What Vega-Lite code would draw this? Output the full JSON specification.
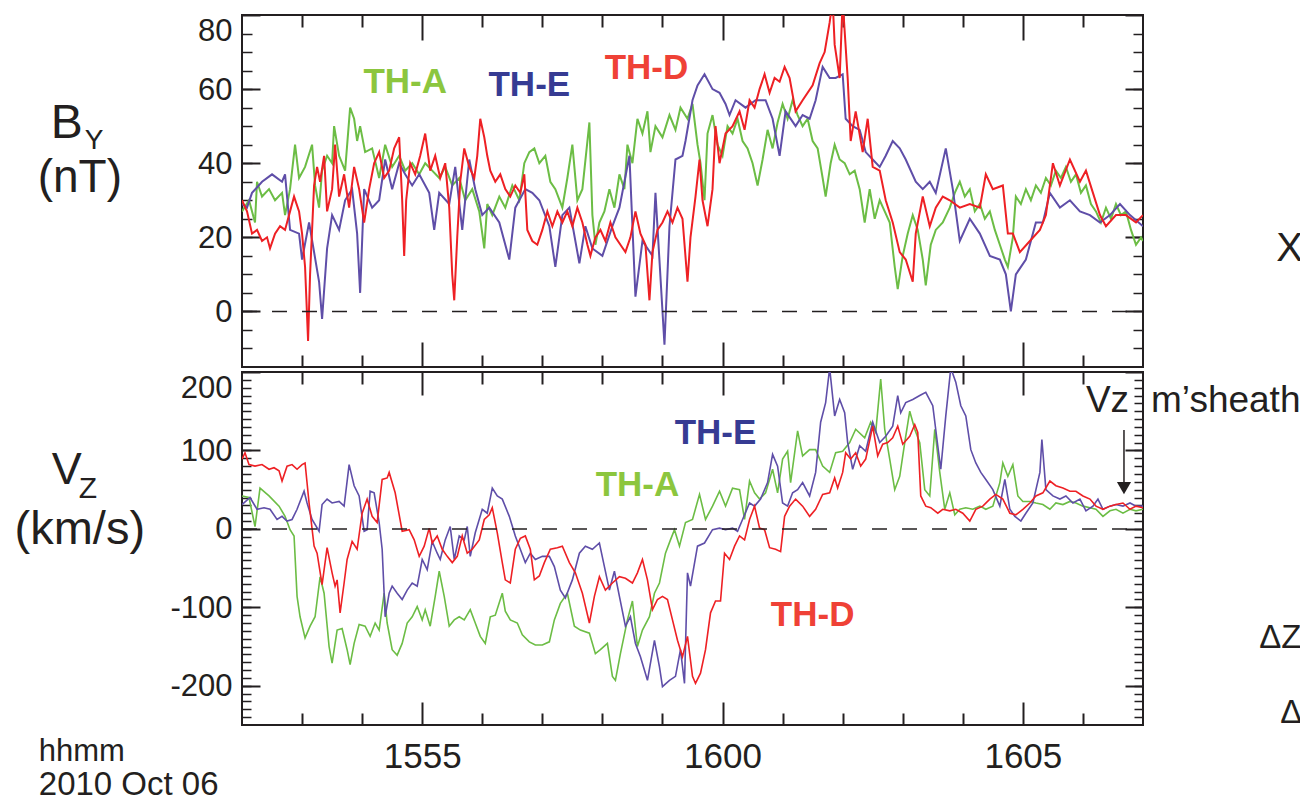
{
"$schema": "https://vega.github.io/schema/vega-lite/v6.json",
"padding": {"left": 13, "top": 13, "right": 0, "bottom": 0},
"spacing": 1,
"config": {
 "view": {"stroke": "#231f20", "strokeWidth": 2},
 "axis": {"grid": false, "domain": false, "labelFont": "Liberation Sans", "labelColor": "#231f20", "tickColor": "#231f20", "labelOverlap": false},
 "text": {"font": "Liberation Sans"}
},
"datasets": {
"byA": [{"time":"15:52:00","by":27},{"time":"15:52:07","by":30},{"time":"15:52:13","by":24},{"time":"15:52:15","by":35},{"time":"15:52:20","by":31},{"time":"15:52:27","by":33},{"time":"15:52:33","by":30},{"time":"15:52:40","by":32},{"time":"15:52:43","by":26},{"time":"15:52:48","by":33},{"time":"15:52:53","by":45},{"time":"15:52:57","by":36},{"time":"15:53:03","by":39},{"time":"15:53:10","by":45},{"time":"15:53:13","by":34},{"time":"15:53:17","by":28},{"time":"15:53:20","by":38},{"time":"15:53:25","by":42},{"time":"15:53:30","by":40},{"time":"15:53:32","by":50},{"time":"15:53:37","by":42},{"time":"15:53:43","by":38},{"time":"15:53:48","by":55},{"time":"15:53:52","by":52},{"time":"15:53:55","by":46},{"time":"15:53:58","by":50},{"time":"15:54:03","by":43},{"time":"15:54:10","by":44},{"time":"15:54:17","by":36},{"time":"15:54:23","by":45},{"time":"15:54:30","by":39},{"time":"15:54:37","by":42},{"time":"15:54:43","by":38},{"time":"15:54:50","by":40},{"time":"15:54:57","by":37},{"time":"15:55:03","by":40},{"time":"15:55:10","by":38},{"time":"15:55:17","by":36},{"time":"15:55:23","by":39},{"time":"15:55:30","by":34},{"time":"15:55:37","by":36},{"time":"15:55:43","by":30},{"time":"15:55:50","by":33},{"time":"15:55:57","by":27},{"time":"15:56:02","by":17},{"time":"15:56:05","by":29},{"time":"15:56:10","by":26},{"time":"15:56:17","by":31},{"time":"15:56:23","by":28},{"time":"15:56:30","by":34},{"time":"15:56:37","by":30},{"time":"15:56:42","by":40},{"time":"15:56:47","by":43},{"time":"15:56:52","by":44},{"time":"15:56:57","by":40},{"time":"15:57:03","by":42},{"time":"15:57:08","by":35},{"time":"15:57:13","by":33},{"time":"15:57:20","by":28},{"time":"15:57:25","by":36},{"time":"15:57:30","by":45},{"time":"15:57:35","by":30},{"time":"15:57:40","by":33},{"time":"15:57:47","by":51},{"time":"15:57:50","by":26},{"time":"15:57:53","by":18},{"time":"15:57:57","by":24},{"time":"15:58:02","by":27},{"time":"15:58:07","by":33},{"time":"15:58:12","by":28},{"time":"15:58:17","by":37},{"time":"15:58:22","by":33},{"time":"15:58:25","by":45},{"time":"15:58:30","by":40},{"time":"15:58:35","by":52},{"time":"15:58:40","by":48},{"time":"15:58:45","by":54},{"time":"15:58:48","by":43},{"time":"15:58:53","by":50},{"time":"15:59:00","by":47},{"time":"15:59:07","by":53},{"time":"15:59:13","by":49},{"time":"15:59:18","by":55},{"time":"15:59:25","by":52},{"time":"15:59:30","by":56},{"time":"15:59:35","by":45},{"time":"15:59:38","by":40},{"time":"15:59:42","by":30},{"time":"15:59:45","by":48},{"time":"15:59:50","by":53},{"time":"15:59:55","by":45},{"time":"16:00:00","by":42},{"time":"16:00:05","by":50},{"time":"16:00:10","by":48},{"time":"16:00:15","by":52},{"time":"16:00:20","by":46},{"time":"16:00:25","by":44},{"time":"16:00:30","by":40},{"time":"16:00:35","by":34},{"time":"16:00:40","by":41},{"time":"16:00:45","by":49},{"time":"16:00:50","by":44},{"time":"16:00:55","by":51},{"time":"16:01:00","by":56},{"time":"16:01:05","by":52},{"time":"16:01:10","by":57},{"time":"16:01:15","by":53},{"time":"16:01:20","by":50},{"time":"16:01:25","by":52},{"time":"16:01:30","by":46},{"time":"16:01:35","by":44},{"time":"16:01:40","by":36},{"time":"16:01:43","by":31},{"time":"16:01:48","by":40},{"time":"16:01:52","by":45},{"time":"16:01:57","by":41},{"time":"16:02:02","by":40},{"time":"16:02:07","by":37},{"time":"16:02:12","by":38},{"time":"16:02:17","by":33},{"time":"16:02:22","by":24},{"time":"16:02:27","by":33},{"time":"16:02:32","by":25},{"time":"16:02:37","by":30},{"time":"16:02:42","by":27},{"time":"16:02:47","by":24},{"time":"16:02:52","by":12},{"time":"16:02:55","by":6},{"time":"16:03:00","by":15},{"time":"16:03:05","by":21},{"time":"16:03:10","by":26},{"time":"16:03:15","by":22},{"time":"16:03:20","by":14},{"time":"16:03:23","by":7},{"time":"16:03:28","by":18},{"time":"16:03:33","by":22},{"time":"16:03:40","by":24},{"time":"16:03:47","by":28},{"time":"16:03:52","by":32},{"time":"16:03:57","by":35},{"time":"16:04:02","by":31},{"time":"16:04:07","by":33},{"time":"16:04:12","by":27},{"time":"16:04:17","by":29},{"time":"16:04:22","by":25},{"time":"16:04:27","by":27},{"time":"16:04:32","by":22},{"time":"16:04:37","by":18},{"time":"16:04:42","by":14},{"time":"16:04:45","by":12},{"time":"16:04:50","by":20},{"time":"16:04:53","by":31},{"time":"16:04:58","by":29},{"time":"16:05:03","by":33},{"time":"16:05:08","by":30},{"time":"16:05:13","by":34},{"time":"16:05:18","by":32},{"time":"16:05:23","by":36},{"time":"16:05:28","by":34},{"time":"16:05:33","by":38},{"time":"16:05:38","by":36},{"time":"16:05:43","by":39},{"time":"16:05:48","by":35},{"time":"16:05:53","by":37},{"time":"16:05:58","by":32},{"time":"16:06:03","by":34},{"time":"16:06:08","by":29},{"time":"16:06:13","by":27},{"time":"16:06:18","by":24},{"time":"16:06:23","by":28},{"time":"16:06:28","by":25},{"time":"16:06:33","by":29},{"time":"16:06:38","by":26},{"time":"16:06:43","by":27},{"time":"16:06:48","by":22},{"time":"16:06:53","by":18},{"time":"16:06:58","by":20},{"time":"16:07:00","by":19}],
"byE": [{"time":"15:52:00","by":29},{"time":"15:52:05","by":28},{"time":"15:52:10","by":32},{"time":"15:52:20","by":35},{"time":"15:52:30","by":37},{"time":"15:52:40","by":35},{"time":"15:52:43","by":37},{"time":"15:52:48","by":22},{"time":"15:52:57","by":21},{"time":"15:53:00","by":14},{"time":"15:53:07","by":24},{"time":"15:53:17","by":8},{"time":"15:53:20","by":-2},{"time":"15:53:25","by":17},{"time":"15:53:30","by":26},{"time":"15:53:37","by":22},{"time":"15:53:43","by":30},{"time":"15:53:50","by":33},{"time":"15:53:55","by":21},{"time":"15:53:58","by":5},{"time":"15:54:02","by":33},{"time":"15:54:10","by":28},{"time":"15:54:17","by":30},{"time":"15:54:23","by":41},{"time":"15:54:30","by":33},{"time":"15:54:37","by":40},{"time":"15:54:43","by":37},{"time":"15:54:50","by":34},{"time":"15:54:57","by":37},{"time":"15:55:07","by":32},{"time":"15:55:12","by":22},{"time":"15:55:17","by":32},{"time":"15:55:27","by":29},{"time":"15:55:33","by":39},{"time":"15:55:40","by":22},{"time":"15:55:47","by":41},{"time":"15:55:53","by":33},{"time":"15:56:00","by":26},{"time":"15:56:07","by":28},{"time":"15:56:17","by":24},{"time":"15:56:27","by":14},{"time":"15:56:33","by":28},{"time":"15:56:43","by":33},{"time":"15:56:50","by":32},{"time":"15:56:57","by":30},{"time":"15:57:07","by":23},{"time":"15:57:13","by":12},{"time":"15:57:20","by":26},{"time":"15:57:27","by":28},{"time":"15:57:37","by":13},{"time":"15:57:43","by":23},{"time":"15:57:50","by":17},{"time":"15:58:00","by":15},{"time":"15:58:10","by":23},{"time":"15:58:17","by":28},{"time":"15:58:27","by":42},{"time":"15:58:33","by":4},{"time":"15:58:40","by":19},{"time":"15:58:50","by":15},{"time":"15:58:53","by":32},{"time":"15:59:02","by":-9},{"time":"15:59:07","by":23},{"time":"15:59:13","by":41},{"time":"15:59:20","by":42},{"time":"15:59:23","by":46},{"time":"15:59:30","by":57},{"time":"15:59:35","by":61},{"time":"15:59:42","by":64},{"time":"15:59:50","by":60},{"time":"15:59:57","by":59},{"time":"16:00:03","by":56},{"time":"16:00:07","by":53},{"time":"16:00:13","by":57},{"time":"16:00:23","by":55},{"time":"16:00:33","by":57},{"time":"16:00:43","by":57},{"time":"16:00:50","by":52},{"time":"16:00:57","by":42},{"time":"16:01:03","by":54},{"time":"16:01:13","by":50},{"time":"16:01:20","by":53},{"time":"16:01:27","by":52},{"time":"16:01:33","by":57},{"time":"16:01:40","by":66},{"time":"16:01:47","by":63},{"time":"16:01:53","by":63},{"time":"16:02:00","by":64},{"time":"16:02:03","by":52},{"time":"16:02:10","by":50},{"time":"16:02:17","by":49},{"time":"16:02:23","by":43},{"time":"16:02:30","by":41},{"time":"16:02:37","by":39},{"time":"16:02:43","by":42},{"time":"16:02:50","by":46},{"time":"16:02:57","by":44},{"time":"16:03:03","by":41},{"time":"16:03:13","by":35},{"time":"16:03:20","by":33},{"time":"16:03:27","by":35},{"time":"16:03:33","by":32},{"time":"16:03:43","by":44},{"time":"16:03:50","by":33},{"time":"16:03:57","by":19},{"time":"16:04:07","by":25},{"time":"16:04:17","by":21},{"time":"16:04:27","by":15},{"time":"16:04:37","by":14},{"time":"16:04:43","by":10},{"time":"16:04:48","by":0},{"time":"16:04:53","by":10},{"time":"16:05:03","by":14},{"time":"16:05:13","by":24},{"time":"16:05:20","by":24},{"time":"16:05:27","by":32},{"time":"16:05:37","by":28},{"time":"16:05:47","by":30},{"time":"16:05:57","by":27},{"time":"16:06:07","by":26},{"time":"16:06:17","by":24},{"time":"16:06:27","by":26},{"time":"16:06:37","by":29},{"time":"16:06:47","by":26},{"time":"16:07:00","by":23}],
"byD": [{"time":"15:52:00","by":30},{"time":"15:52:05","by":27},{"time":"15:52:10","by":21},{"time":"15:52:15","by":22},{"time":"15:52:20","by":19},{"time":"15:52:25","by":20},{"time":"15:52:28","by":17},{"time":"15:52:33","by":21},{"time":"15:52:38","by":23},{"time":"15:52:43","by":22},{"time":"15:52:48","by":27},{"time":"15:52:52","by":31},{"time":"15:52:57","by":27},{"time":"15:53:00","by":21},{"time":"15:53:03","by":12},{"time":"15:53:06","by":-8},{"time":"15:53:08","by":10},{"time":"15:53:12","by":34},{"time":"15:53:15","by":39},{"time":"15:53:18","by":35},{"time":"15:53:22","by":42},{"time":"15:53:25","by":27},{"time":"15:53:30","by":33},{"time":"15:53:33","by":45},{"time":"15:53:37","by":31},{"time":"15:53:42","by":37},{"time":"15:53:47","by":28},{"time":"15:53:52","by":39},{"time":"15:53:57","by":33},{"time":"15:54:02","by":24},{"time":"15:54:07","by":33},{"time":"15:54:12","by":40},{"time":"15:54:17","by":43},{"time":"15:54:22","by":36},{"time":"15:54:27","by":38},{"time":"15:54:32","by":44},{"time":"15:54:37","by":47},{"time":"15:54:40","by":30},{"time":"15:54:42","by":15},{"time":"15:54:44","by":30},{"time":"15:54:48","by":40},{"time":"15:54:53","by":37},{"time":"15:54:58","by":42},{"time":"15:55:03","by":48},{"time":"15:55:08","by":38},{"time":"15:55:13","by":42},{"time":"15:55:18","by":36},{"time":"15:55:23","by":40},{"time":"15:55:27","by":28},{"time":"15:55:30","by":10},{"time":"15:55:32","by":3},{"time":"15:55:35","by":20},{"time":"15:55:38","by":35},{"time":"15:55:42","by":44},{"time":"15:55:47","by":39},{"time":"15:55:52","by":36},{"time":"15:55:55","by":42},{"time":"15:55:58","by":52},{"time":"15:56:02","by":47},{"time":"15:56:05","by":42},{"time":"15:56:08","by":38},{"time":"15:56:13","by":35},{"time":"15:56:18","by":37},{"time":"15:56:23","by":33},{"time":"15:56:28","by":31},{"time":"15:56:33","by":34},{"time":"15:56:38","by":32},{"time":"15:56:42","by":37},{"time":"15:56:45","by":22},{"time":"15:56:50","by":19},{"time":"15:56:55","by":18},{"time":"15:57:00","by":22},{"time":"15:57:05","by":27},{"time":"15:57:10","by":23},{"time":"15:57:15","by":27},{"time":"15:57:20","by":24},{"time":"15:57:25","by":27},{"time":"15:57:30","by":23},{"time":"15:57:35","by":28},{"time":"15:57:40","by":24},{"time":"15:57:45","by":18},{"time":"15:57:48","by":15},{"time":"15:57:53","by":20},{"time":"15:57:58","by":22},{"time":"15:58:03","by":19},{"time":"15:58:08","by":24},{"time":"15:58:13","by":20},{"time":"15:58:18","by":18},{"time":"15:58:23","by":16},{"time":"15:58:28","by":20},{"time":"15:58:33","by":27},{"time":"15:58:38","by":21},{"time":"15:58:43","by":18},{"time":"15:58:47","by":3},{"time":"15:58:50","by":16},{"time":"15:58:55","by":22},{"time":"15:59:00","by":24},{"time":"15:59:05","by":27},{"time":"15:59:10","by":24},{"time":"15:59:15","by":28},{"time":"15:59:20","by":25},{"time":"15:59:25","by":8},{"time":"15:59:28","by":20},{"time":"15:59:33","by":31},{"time":"15:59:37","by":41},{"time":"15:59:40","by":30},{"time":"15:59:45","by":23},{"time":"15:59:50","by":33},{"time":"15:59:53","by":50},{"time":"15:59:57","by":40},{"time":"16:00:03","by":48},{"time":"16:00:10","by":50},{"time":"16:00:17","by":54},{"time":"16:00:22","by":49},{"time":"16:00:27","by":57},{"time":"16:00:32","by":55},{"time":"16:00:37","by":60},{"time":"16:00:42","by":64},{"time":"16:00:47","by":59},{"time":"16:00:52","by":63},{"time":"16:00:57","by":62},{"time":"16:01:02","by":66},{"time":"16:01:07","by":63},{"time":"16:01:13","by":54},{"time":"16:01:20","by":57},{"time":"16:01:30","by":61},{"time":"16:01:37","by":67},{"time":"16:01:42","by":70},{"time":"16:01:47","by":78},{"time":"16:01:50","by":84},{"time":"16:01:52","by":72},{"time":"16:01:57","by":63},{"time":"16:02:00","by":84},{"time":"16:02:05","by":63},{"time":"16:02:08","by":46},{"time":"16:02:13","by":54},{"time":"16:02:20","by":43},{"time":"16:02:25","by":52},{"time":"16:02:30","by":39},{"time":"16:02:37","by":38},{"time":"16:02:43","by":30},{"time":"16:02:50","by":24},{"time":"16:02:57","by":16},{"time":"16:03:03","by":14},{"time":"16:03:10","by":8},{"time":"16:03:13","by":21},{"time":"16:03:20","by":31},{"time":"16:03:27","by":23},{"time":"16:03:33","by":28},{"time":"16:03:40","by":31},{"time":"16:03:47","by":30},{"time":"16:03:57","by":28},{"time":"16:04:07","by":29},{"time":"16:04:17","by":28},{"time":"16:04:23","by":37},{"time":"16:04:30","by":33},{"time":"16:04:40","by":34},{"time":"16:04:45","by":21},{"time":"16:04:50","by":21},{"time":"16:04:57","by":16},{"time":"16:05:07","by":19},{"time":"16:05:17","by":22},{"time":"16:05:23","by":26},{"time":"16:05:30","by":40},{"time":"16:05:37","by":34},{"time":"16:05:47","by":41},{"time":"16:05:57","by":35},{"time":"16:06:03","by":38},{"time":"16:06:10","by":32},{"time":"16:06:17","by":26},{"time":"16:06:23","by":23},{"time":"16:06:33","by":26},{"time":"16:06:43","by":26},{"time":"16:06:53","by":24},{"time":"16:07:00","by":26}],
"vzA": [{"time":"15:52:00","vz":42},{"time":"15:52:07","vz":40},{"time":"15:52:13","vz":3},{"time":"15:52:18","vz":52},{"time":"15:52:27","vz":42},{"time":"15:52:37","vz":29},{"time":"15:52:43","vz":16},{"time":"15:52:48","vz":-1},{"time":"15:52:52","vz":-9},{"time":"15:52:55","vz":-86},{"time":"15:52:58","vz":-112},{"time":"15:53:03","vz":-139},{"time":"15:53:08","vz":-124},{"time":"15:53:13","vz":-112},{"time":"15:53:18","vz":-61},{"time":"15:53:22","vz":-82},{"time":"15:53:27","vz":-150},{"time":"15:53:30","vz":-171},{"time":"15:53:35","vz":-129},{"time":"15:53:40","vz":-127},{"time":"15:53:45","vz":-154},{"time":"15:53:48","vz":-173},{"time":"15:53:52","vz":-146},{"time":"15:53:57","vz":-122},{"time":"15:54:03","vz":-124},{"time":"15:54:08","vz":-137},{"time":"15:54:13","vz":-120},{"time":"15:54:17","vz":-129},{"time":"15:54:22","vz":-82},{"time":"15:54:25","vz":-120},{"time":"15:54:30","vz":-154},{"time":"15:54:35","vz":-161},{"time":"15:54:40","vz":-146},{"time":"15:54:45","vz":-120},{"time":"15:54:50","vz":-112},{"time":"15:54:55","vz":-99},{"time":"15:55:00","vz":-116},{"time":"15:55:03","vz":-103},{"time":"15:55:08","vz":-124},{"time":"15:55:13","vz":-86},{"time":"15:55:17","vz":-54},{"time":"15:55:22","vz":-86},{"time":"15:55:27","vz":-124},{"time":"15:55:32","vz":-116},{"time":"15:55:37","vz":-112},{"time":"15:55:42","vz":-116},{"time":"15:55:48","vz":-103},{"time":"15:55:53","vz":-120},{"time":"15:55:58","vz":-137},{"time":"15:56:03","vz":-146},{"time":"15:56:08","vz":-112},{"time":"15:56:13","vz":-110},{"time":"15:56:20","vz":-82},{"time":"15:56:23","vz":-105},{"time":"15:56:28","vz":-116},{"time":"15:56:35","vz":-120},{"time":"15:56:40","vz":-135},{"time":"15:56:47","vz":-144},{"time":"15:56:53","vz":-148},{"time":"15:57:00","vz":-148},{"time":"15:57:07","vz":-144},{"time":"15:57:12","vz":-116},{"time":"15:57:18","vz":-95},{"time":"15:57:25","vz":-82},{"time":"15:57:32","vz":-124},{"time":"15:57:38","vz":-129},{"time":"15:57:47","vz":-133},{"time":"15:57:53","vz":-159},{"time":"15:57:58","vz":-154},{"time":"15:58:05","vz":-146},{"time":"15:58:10","vz":-188},{"time":"15:58:13","vz":-193},{"time":"15:58:18","vz":-159},{"time":"15:58:25","vz":-116},{"time":"15:58:30","vz":-92},{"time":"15:58:35","vz":-150},{"time":"15:58:40","vz":-129},{"time":"15:58:47","vz":-112},{"time":"15:58:52","vz":-82},{"time":"15:58:57","vz":-69},{"time":"15:59:03","vz":-31},{"time":"15:59:08","vz":-14},{"time":"15:59:12","vz":-1},{"time":"15:59:17","vz":-22},{"time":"15:59:23","vz":8},{"time":"15:59:30","vz":12},{"time":"15:59:37","vz":44},{"time":"15:59:43","vz":12},{"time":"15:59:50","vz":29},{"time":"15:59:57","vz":48},{"time":"16:00:03","vz":29},{"time":"16:00:10","vz":52},{"time":"16:00:17","vz":50},{"time":"16:00:22","vz":12},{"time":"16:00:27","vz":61},{"time":"16:00:32","vz":46},{"time":"16:00:37","vz":38},{"time":"16:00:43","vz":46},{"time":"16:00:50","vz":76},{"time":"16:00:55","vz":46},{"time":"16:01:00","vz":89},{"time":"16:01:05","vz":99},{"time":"16:01:08","vz":59},{"time":"16:01:15","vz":125},{"time":"16:01:20","vz":93},{"time":"16:01:27","vz":101},{"time":"16:01:33","vz":101},{"time":"16:01:40","vz":80},{"time":"16:01:47","vz":72},{"time":"16:01:53","vz":97},{"time":"16:02:00","vz":99},{"time":"16:02:07","vz":110},{"time":"16:02:13","vz":127},{"time":"16:02:22","vz":116},{"time":"16:02:28","vz":136},{"time":"16:02:33","vz":123},{"time":"16:02:38","vz":191},{"time":"16:02:42","vz":127},{"time":"16:02:47","vz":89},{"time":"16:02:52","vz":50},{"time":"16:02:57","vz":67},{"time":"16:03:02","vz":110},{"time":"16:03:07","vz":150},{"time":"16:03:12","vz":127},{"time":"16:03:17","vz":110},{"time":"16:03:22","vz":50},{"time":"16:03:27","vz":42},{"time":"16:03:32","vz":127},{"time":"16:03:37","vz":72},{"time":"16:03:42","vz":25},{"time":"16:03:47","vz":46},{"time":"16:03:52","vz":18},{"time":"16:03:57","vz":25},{"time":"16:04:03","vz":27},{"time":"16:04:10","vz":25},{"time":"16:04:17","vz":29},{"time":"16:04:23","vz":25},{"time":"16:04:30","vz":29},{"time":"16:04:37","vz":59},{"time":"16:04:40","vz":84},{"time":"16:04:45","vz":67},{"time":"16:04:50","vz":82},{"time":"16:04:55","vz":42},{"time":"16:05:00","vz":35},{"time":"16:05:07","vz":35},{"time":"16:05:13","vz":33},{"time":"16:05:20","vz":31},{"time":"16:05:27","vz":25},{"time":"16:05:33","vz":33},{"time":"16:05:40","vz":31},{"time":"16:05:47","vz":35},{"time":"16:05:53","vz":33},{"time":"16:06:00","vz":29},{"time":"16:06:07","vz":27},{"time":"16:06:13","vz":25},{"time":"16:06:20","vz":16},{"time":"16:06:27","vz":23},{"time":"16:06:33","vz":25},{"time":"16:06:40","vz":20},{"time":"16:06:47","vz":25},{"time":"16:06:53","vz":23},{"time":"16:07:00","vz":25}],
"vzE": [{"time":"15:52:00","vz":31},{"time":"15:52:08","vz":40},{"time":"15:52:15","vz":25},{"time":"15:52:22","vz":27},{"time":"15:52:28","vz":25},{"time":"15:52:35","vz":12},{"time":"15:52:40","vz":16},{"time":"15:52:45","vz":10},{"time":"15:52:50","vz":12},{"time":"15:52:55","vz":25},{"time":"15:53:02","vz":48},{"time":"15:53:05","vz":33},{"time":"15:53:10","vz":12},{"time":"15:53:17","vz":-3},{"time":"15:53:20","vz":31},{"time":"15:53:25","vz":38},{"time":"15:53:30","vz":33},{"time":"15:53:37","vz":35},{"time":"15:53:42","vz":29},{"time":"15:53:47","vz":82},{"time":"15:53:52","vz":55},{"time":"15:53:57","vz":42},{"time":"15:54:02","vz":-3},{"time":"15:54:05","vz":-1},{"time":"15:54:08","vz":48},{"time":"15:54:12","vz":46},{"time":"15:54:17","vz":8},{"time":"15:54:20","vz":-26},{"time":"15:54:23","vz":-112},{"time":"15:54:27","vz":-82},{"time":"15:54:30","vz":-73},{"time":"15:54:35","vz":-82},{"time":"15:54:40","vz":-90},{"time":"15:54:45","vz":-78},{"time":"15:54:50","vz":-69},{"time":"15:54:55","vz":-73},{"time":"15:55:00","vz":-39},{"time":"15:55:05","vz":-52},{"time":"15:55:10","vz":-16},{"time":"15:55:15","vz":-31},{"time":"15:55:18","vz":-39},{"time":"15:55:23","vz":-14},{"time":"15:55:28","vz":3},{"time":"15:55:32","vz":-39},{"time":"15:55:37","vz":-9},{"time":"15:55:42","vz":-14},{"time":"15:55:45","vz":3},{"time":"15:55:48","vz":-35},{"time":"15:55:53","vz":-5},{"time":"15:56:00","vz":25},{"time":"15:56:05","vz":20},{"time":"15:56:10","vz":52},{"time":"15:56:15","vz":42},{"time":"15:56:20","vz":38},{"time":"15:56:27","vz":16},{"time":"15:56:33","vz":-9},{"time":"15:56:38","vz":-26},{"time":"15:56:43","vz":-43},{"time":"15:56:48","vz":-31},{"time":"15:56:53","vz":-39},{"time":"15:57:00","vz":-35},{"time":"15:57:07","vz":-35},{"time":"15:57:12","vz":-48},{"time":"15:57:18","vz":-78},{"time":"15:57:23","vz":-88},{"time":"15:57:30","vz":-65},{"time":"15:57:37","vz":-31},{"time":"15:57:43","vz":-22},{"time":"15:57:50","vz":-26},{"time":"15:57:57","vz":-18},{"time":"15:58:02","vz":-48},{"time":"15:58:07","vz":-78},{"time":"15:58:12","vz":-54},{"time":"15:58:17","vz":-86},{"time":"15:58:23","vz":-124},{"time":"15:58:28","vz":-112},{"time":"15:58:33","vz":-146},{"time":"15:58:38","vz":-163},{"time":"15:58:45","vz":-193},{"time":"15:58:52","vz":-142},{"time":"15:58:57","vz":-176},{"time":"15:59:00","vz":-201},{"time":"15:59:07","vz":-193},{"time":"15:59:13","vz":-188},{"time":"15:59:18","vz":-154},{"time":"15:59:22","vz":-197},{"time":"15:59:25","vz":-56},{"time":"15:59:28","vz":-73},{"time":"15:59:35","vz":-22},{"time":"15:59:42","vz":-18},{"time":"15:59:50","vz":-1},{"time":"15:59:57","vz":1},{"time":"16:00:03","vz":-1},{"time":"16:00:10","vz":1},{"time":"16:00:15","vz":-3},{"time":"16:00:20","vz":12},{"time":"16:00:27","vz":33},{"time":"16:00:32","vz":29},{"time":"16:00:38","vz":38},{"time":"16:00:45","vz":59},{"time":"16:00:50","vz":95},{"time":"16:00:55","vz":80},{"time":"16:01:00","vz":33},{"time":"16:01:05","vz":29},{"time":"16:01:10","vz":46},{"time":"16:01:15","vz":50},{"time":"16:01:20","vz":59},{"time":"16:01:27","vz":42},{"time":"16:01:33","vz":72},{"time":"16:01:38","vz":136},{"time":"16:01:43","vz":161},{"time":"16:01:47","vz":205},{"time":"16:01:52","vz":144},{"time":"16:01:57","vz":165},{"time":"16:02:02","vz":148},{"time":"16:02:05","vz":110},{"time":"16:02:10","vz":76},{"time":"16:02:17","vz":106},{"time":"16:02:23","vz":99},{"time":"16:02:30","vz":136},{"time":"16:02:37","vz":110},{"time":"16:02:43","vz":118},{"time":"16:02:50","vz":131},{"time":"16:02:55","vz":170},{"time":"16:02:58","vz":148},{"time":"16:03:03","vz":161},{"time":"16:03:10","vz":165},{"time":"16:03:17","vz":170},{"time":"16:03:23","vz":174},{"time":"16:03:30","vz":157},{"time":"16:03:35","vz":106},{"time":"16:03:38","vz":76},{"time":"16:03:43","vz":144},{"time":"16:03:48","vz":205},{"time":"16:03:53","vz":187},{"time":"16:03:58","vz":157},{"time":"16:04:03","vz":144},{"time":"16:04:08","vz":101},{"time":"16:04:13","vz":84},{"time":"16:04:18","vz":72},{"time":"16:04:23","vz":63},{"time":"16:04:30","vz":50},{"time":"16:04:37","vz":29},{"time":"16:04:42","vz":63},{"time":"16:04:47","vz":25},{"time":"16:04:52","vz":16},{"time":"16:04:58","vz":10},{"time":"16:05:03","vz":20},{"time":"16:05:10","vz":33},{"time":"16:05:17","vz":72},{"time":"16:05:19","vz":114},{"time":"16:05:23","vz":50},{"time":"16:05:30","vz":42},{"time":"16:05:37","vz":38},{"time":"16:05:43","vz":42},{"time":"16:05:50","vz":33},{"time":"16:05:57","vz":38},{"time":"16:06:03","vz":23},{"time":"16:06:10","vz":29},{"time":"16:06:15","vz":38},{"time":"16:06:20","vz":25},{"time":"16:06:27","vz":29},{"time":"16:06:33","vz":31},{"time":"16:06:40","vz":29},{"time":"16:06:47","vz":33},{"time":"16:06:53","vz":29},{"time":"16:07:00","vz":29}],
"vzD": [{"time":"15:52:00","vz":89},{"time":"15:52:03","vz":97},{"time":"15:52:07","vz":82},{"time":"15:52:13","vz":80},{"time":"15:52:20","vz":82},{"time":"15:52:27","vz":76},{"time":"15:52:32","vz":78},{"time":"15:52:37","vz":74},{"time":"15:52:40","vz":61},{"time":"15:52:45","vz":80},{"time":"15:52:50","vz":82},{"time":"15:52:55","vz":76},{"time":"15:53:00","vz":82},{"time":"15:53:03","vz":84},{"time":"15:53:07","vz":33},{"time":"15:53:12","vz":-22},{"time":"15:53:15","vz":-31},{"time":"15:53:20","vz":-71},{"time":"15:53:25","vz":-24},{"time":"15:53:30","vz":-56},{"time":"15:53:33","vz":-73},{"time":"15:53:35","vz":-65},{"time":"15:53:38","vz":-107},{"time":"15:53:42","vz":-69},{"time":"15:53:45","vz":-39},{"time":"15:53:50","vz":-16},{"time":"15:53:55","vz":-26},{"time":"15:54:00","vz":20},{"time":"15:54:05","vz":38},{"time":"15:54:10","vz":16},{"time":"15:54:15","vz":8},{"time":"15:54:20","vz":63},{"time":"15:54:25","vz":65},{"time":"15:54:27","vz":72},{"time":"15:54:33","vz":46},{"time":"15:54:40","vz":-3},{"time":"15:54:47","vz":-1},{"time":"15:54:52","vz":-14},{"time":"15:54:57","vz":-35},{"time":"15:55:02","vz":-22},{"time":"15:55:07","vz":1},{"time":"15:55:10","vz":-18},{"time":"15:55:15","vz":-9},{"time":"15:55:20","vz":-26},{"time":"15:55:25","vz":-35},{"time":"15:55:30","vz":-43},{"time":"15:55:35","vz":-35},{"time":"15:55:40","vz":-9},{"time":"15:55:45","vz":-31},{"time":"15:55:50","vz":-26},{"time":"15:55:57","vz":-14},{"time":"15:56:02","vz":12},{"time":"15:56:07","vz":18},{"time":"15:56:10","vz":27},{"time":"15:56:15","vz":-5},{"time":"15:56:20","vz":-43},{"time":"15:56:23","vz":-65},{"time":"15:56:28","vz":-69},{"time":"15:56:33","vz":-26},{"time":"15:56:38","vz":-12},{"time":"15:56:43","vz":-9},{"time":"15:56:48","vz":-26},{"time":"15:56:52","vz":-65},{"time":"15:56:57","vz":-60},{"time":"15:57:02","vz":-43},{"time":"15:57:08","vz":-26},{"time":"15:57:15","vz":-24},{"time":"15:57:20","vz":-22},{"time":"15:57:27","vz":-43},{"time":"15:57:33","vz":-56},{"time":"15:57:40","vz":-82},{"time":"15:57:47","vz":-120},{"time":"15:57:52","vz":-86},{"time":"15:57:57","vz":-61},{"time":"15:58:03","vz":-78},{"time":"15:58:10","vz":-69},{"time":"15:58:17","vz":-61},{"time":"15:58:23","vz":-63},{"time":"15:58:30","vz":-69},{"time":"15:58:35","vz":-56},{"time":"15:58:40","vz":-39},{"time":"15:58:45","vz":-65},{"time":"15:58:50","vz":-103},{"time":"15:58:55","vz":-90},{"time":"15:59:00","vz":-86},{"time":"15:59:05","vz":-90},{"time":"15:59:10","vz":-116},{"time":"15:59:15","vz":-142},{"time":"15:59:20","vz":-163},{"time":"15:59:25","vz":-137},{"time":"15:59:30","vz":-188},{"time":"15:59:33","vz":-197},{"time":"15:59:38","vz":-184},{"time":"15:59:43","vz":-154},{"time":"15:59:48","vz":-107},{"time":"15:59:53","vz":-92},{"time":"15:59:58","vz":-92},{"time":"16:00:02","vz":-31},{"time":"16:00:07","vz":-39},{"time":"16:00:12","vz":-22},{"time":"16:00:17","vz":-9},{"time":"16:00:22","vz":-14},{"time":"16:00:27","vz":12},{"time":"16:00:32","vz":29},{"time":"16:00:37","vz":1},{"time":"16:00:42","vz":-1},{"time":"16:00:47","vz":-24},{"time":"16:00:53","vz":-26},{"time":"16:00:58","vz":-29},{"time":"16:01:02","vz":16},{"time":"16:01:07","vz":29},{"time":"16:01:13","vz":38},{"time":"16:01:20","vz":29},{"time":"16:01:27","vz":16},{"time":"16:01:33","vz":25},{"time":"16:01:40","vz":44},{"time":"16:01:47","vz":46},{"time":"16:01:52","vz":65},{"time":"16:01:55","vz":52},{"time":"16:02:00","vz":72},{"time":"16:02:03","vz":97},{"time":"16:02:08","vz":89},{"time":"16:02:13","vz":97},{"time":"16:02:18","vz":80},{"time":"16:02:23","vz":89},{"time":"16:02:30","vz":131},{"time":"16:02:35","vz":93},{"time":"16:02:40","vz":108},{"time":"16:02:45","vz":110},{"time":"16:02:50","vz":116},{"time":"16:02:55","vz":131},{"time":"16:03:00","vz":108},{"time":"16:03:07","vz":118},{"time":"16:03:12","vz":133},{"time":"16:03:15","vz":123},{"time":"16:03:18","vz":42},{"time":"16:03:23","vz":29},{"time":"16:03:28","vz":27},{"time":"16:03:35","vz":20},{"time":"16:03:40","vz":25},{"time":"16:03:47","vz":23},{"time":"16:03:53","vz":25},{"time":"16:04:00","vz":20},{"time":"16:04:07","vz":10},{"time":"16:04:13","vz":25},{"time":"16:04:20","vz":29},{"time":"16:04:27","vz":38},{"time":"16:04:33","vz":44},{"time":"16:04:40","vz":38},{"time":"16:04:47","vz":20},{"time":"16:04:53","vz":18},{"time":"16:05:00","vz":25},{"time":"16:05:07","vz":33},{"time":"16:05:13","vz":42},{"time":"16:05:20","vz":46},{"time":"16:05:27","vz":61},{"time":"16:05:33","vz":55},{"time":"16:05:40","vz":52},{"time":"16:05:47","vz":48},{"time":"16:05:53","vz":48},{"time":"16:06:00","vz":42},{"time":"16:06:07","vz":38},{"time":"16:06:13","vz":29},{"time":"16:06:20","vz":25},{"time":"16:06:27","vz":29},{"time":"16:06:33","vz":31},{"time":"16:06:40","vz":33},{"time":"16:06:47","vz":25},{"time":"16:06:53","vz":29},{"time":"16:07:00","vz":27}]
},
"vconcat": [
{
 "width": 901, "height": 352,
 "resolve": {"axis": {"x": "independent", "y": "independent"}},
 "layer": [
  {"data": {"name": "byA", "format": {"parse": {"time": "date:'%H:%M:%S'"}}},
   "mark": {"type": "line", "color": "#6cbd45", "strokeWidth": 2, "clip": true},
   "encoding": {
    "x": {"field": "time", "type": "temporal", "scale": {"domain": [{"year":1900,"month":1,"date":1,"hours":15,"minutes":52},{"year":1900,"month":1,"date":1,"hours":16,"minutes":7}]},
          "axis": {"orient": "bottom", "title": null, "labels": false, "tickSize": -25, "tickWidth": 2, "values": [{"year":1900,"month":1,"date":1,"hours":15,"minutes":55},{"year":1900,"month":1,"date":1,"hours":16,"minutes":0},{"year":1900,"month":1,"date":1,"hours":16,"minutes":5}]}},
    "y": {"field": "by", "type": "quantitative", "scale": {"domain": [-15, 80], "nice": false, "zero": false},
          "axis": {"orient": "left", "title": null, "ticks": false, "values": [0, 20, 40, 60, 80], "labelFontSize": 31, "labelPadding": 10, "labelFlush": true, "labelOffset": 1}}
   }},
  {"data": {"name": "byE", "format": {"parse": {"time": "date:'%H:%M:%S'"}}},
   "mark": {"type": "line", "color": "#5f4ea8", "strokeWidth": 2, "clip": true},
   "encoding": {
    "x": {"field": "time", "type": "temporal", "axis": {"orient": "bottom", "title": null, "labels": false, "tickSize": -12, "tickWidth": 2, "values": [{"year":1900,"month":1,"date":1,"hours":15,"minutes":53},{"year":1900,"month":1,"date":1,"hours":15,"minutes":54},{"year":1900,"month":1,"date":1,"hours":15,"minutes":56},{"year":1900,"month":1,"date":1,"hours":15,"minutes":57},{"year":1900,"month":1,"date":1,"hours":15,"minutes":58},{"year":1900,"month":1,"date":1,"hours":15,"minutes":59},{"year":1900,"month":1,"date":1,"hours":16,"minutes":1},{"year":1900,"month":1,"date":1,"hours":16,"minutes":2},{"year":1900,"month":1,"date":1,"hours":16,"minutes":3},{"year":1900,"month":1,"date":1,"hours":16,"minutes":4},{"year":1900,"month":1,"date":1,"hours":16,"minutes":6}]}},
    "y": {"field": "by", "type": "quantitative", "axis": {"orient": "left", "title": null, "labels": false, "tickSize": -18, "tickWidth": 2, "values": [0, 20, 40, 60, 80]}}
   }},
  {"data": {"name": "byD", "format": {"parse": {"time": "date:'%H:%M:%S'"}}},
   "mark": {"type": "line", "color": "#ee2024", "strokeWidth": 2, "clip": true},
   "encoding": {
    "x": {"field": "time", "type": "temporal", "axis": {"orient": "top", "title": null, "labels": false, "tickSize": -25, "tickWidth": 2, "values": [{"year":1900,"month":1,"date":1,"hours":15,"minutes":55},{"year":1900,"month":1,"date":1,"hours":16,"minutes":0},{"year":1900,"month":1,"date":1,"hours":16,"minutes":5}]}},
    "y": {"field": "by", "type": "quantitative", "axis": {"orient": "left", "title": null, "labels": false, "tickSize": -10, "tickWidth": 1.5, "values": [-10, -5, 0, 5, 10, 15, 20, 25, 30, 35, 40, 45, 50, 55, 60, 65, 70, 75]}}
   }},
  {"data": {"values": [{}]},
   "mark": {"type": "rule", "color": "#231f20", "strokeWidth": 1.5, "strokeDash": [15, 15]},
   "encoding": {
    "x": {"datum": {"year":1900,"month":1,"date":1,"hours":15,"minutes":52}, "type": "temporal", "axis": {"orient": "top", "title": null, "labels": false, "tickSize": -12, "tickWidth": 2, "values": [{"year":1900,"month":1,"date":1,"hours":15,"minutes":53},{"year":1900,"month":1,"date":1,"hours":15,"minutes":54},{"year":1900,"month":1,"date":1,"hours":15,"minutes":56},{"year":1900,"month":1,"date":1,"hours":15,"minutes":57},{"year":1900,"month":1,"date":1,"hours":15,"minutes":58},{"year":1900,"month":1,"date":1,"hours":15,"minutes":59},{"year":1900,"month":1,"date":1,"hours":16,"minutes":1},{"year":1900,"month":1,"date":1,"hours":16,"minutes":2},{"year":1900,"month":1,"date":1,"hours":16,"minutes":3},{"year":1900,"month":1,"date":1,"hours":16,"minutes":4},{"year":1900,"month":1,"date":1,"hours":16,"minutes":6}]}},
    "x2": {"datum": {"year":1900,"month":1,"date":1,"hours":16,"minutes":7}},
    "y": {"datum": 0, "type": "quantitative", "axis": {"orient": "right", "title": null, "labels": false, "tickSize": -18, "tickWidth": 2, "values": [0, 20, 40, 60, 80]}}
   }},
  {"data": {"values": [{}]},
   "mark": {"type": "text", "text": "TH-A", "fontSize": 35, "fontWeight": "bold", "color": "#8cc63e", "align": "center", "baseline": "alphabetic"},
   "encoding": {
    "x": {"datum": {"year":1900,"month":1,"date":1,"hours":15,"minutes":54,"seconds":43}, "type": "temporal", "axis": null},
    "y": {"datum": 58.9, "type": "quantitative", "axis": {"orient": "right", "title": null, "labels": false, "tickSize": -10, "tickWidth": 1.5, "values": [-10, -5, 0, 5, 10, 15, 20, 25, 30, 35, 40, 45, 50, 55, 60, 65, 70, 75]}}
   }},
  {"data": {"values": [{}]},
   "mark": {"type": "text", "text": "TH-E", "fontSize": 35, "fontWeight": "bold", "color": "#363b93", "align": "center", "baseline": "alphabetic"},
   "encoding": {
    "x": {"datum": {"year":1900,"month":1,"date":1,"hours":15,"minutes":56,"seconds":47}, "type": "temporal", "axis": null},
    "y": {"datum": 58.1, "type": "quantitative", "axis": null}
   }},
  {"data": {"values": [{}]},
   "mark": {"type": "text", "text": "TH-D", "fontSize": 35, "fontWeight": "bold", "color": "#ef4136", "align": "center", "baseline": "alphabetic"},
   "encoding": {
    "x": {"datum": {"year":1900,"month":1,"date":1,"hours":15,"minutes":58,"seconds":44}, "type": "temporal", "axis": null},
    "y": {"datum": 62.7, "type": "quantitative", "axis": null}
   }},
  {"data": {"values": [{}]},
   "mark": {"type": "text", "text": "B", "fontSize": 48, "color": "#231f20", "align": "center", "baseline": "alphabetic"},
   "encoding": {
    "x": {"datum": {"year":1900,"month":1,"date":1,"hours":15,"minutes":49,"seconds":5}, "type": "temporal", "axis": null},
    "y": {"datum": 46.8, "type": "quantitative", "axis": null}
   }},
  {"data": {"values": [{}]},
   "mark": {"type": "text", "text": "Y", "fontSize": 28, "color": "#231f20", "align": "left", "baseline": "alphabetic"},
   "encoding": {
    "x": {"datum": {"year":1900,"month":1,"date":1,"hours":15,"minutes":49,"seconds":23}, "type": "temporal", "axis": null},
    "y": {"datum": 43.8, "type": "quantitative", "axis": null}
   }},
  {"data": {"values": [{}]},
   "mark": {"type": "text", "text": "(nT)", "fontSize": 46, "color": "#231f20", "align": "center", "baseline": "alphabetic"},
   "encoding": {
    "x": {"datum": {"year":1900,"month":1,"date":1,"hours":15,"minutes":49,"seconds":18}, "type": "temporal", "axis": null},
    "y": {"datum": 32.2, "type": "quantitative", "axis": null}
   }},
  {"data": {"values": [{}]},
   "mark": {"type": "text", "text": "X", "fontSize": 40, "color": "#231f20", "align": "left", "baseline": "alphabetic"},
   "encoding": {
    "x": {"datum": {"year":1900,"month":1,"date":1,"hours":16,"minutes":9,"seconds":13}, "type": "temporal", "axis": null},
    "y": {"datum": 13.6, "type": "quantitative", "axis": null}
   }}
 ]
},
{
 "width": 901, "height": 353,
 "resolve": {"axis": {"x": "independent", "y": "independent"}},
 "layer": [
  {"data": {"name": "vzA", "format": {"parse": {"time": "date:'%H:%M:%S'"}}},
   "mark": {"type": "line", "color": "#6cbd45", "strokeWidth": 1.6, "clip": true},
   "encoding": {
    "x": {"field": "time", "type": "temporal", "scale": {"domain": [{"year":1900,"month":1,"date":1,"hours":15,"minutes":52},{"year":1900,"month":1,"date":1,"hours":16,"minutes":7}]},
          "axis": {"orient": "bottom", "title": null, "ticks": false, "format": "%H%M", "labelFontSize": 35, "labelPadding": 14, "labelFlush": false, "values": [{"year":1900,"month":1,"date":1,"hours":15,"minutes":55},{"year":1900,"month":1,"date":1,"hours":16,"minutes":0},{"year":1900,"month":1,"date":1,"hours":16,"minutes":5}]}},
    "y": {"field": "vz", "type": "quantitative", "scale": {"domain": [-250, 200], "nice": false, "zero": false},
          "axis": {"orient": "left", "title": null, "ticks": false, "values": [-200, -100, 0, 100, 200], "labelExpr": "'' + datum.value", "labelFontSize": 31, "labelPadding": 10, "labelFlush": true, "labelOffset": 1}}
   }},
  {"data": {"name": "vzE", "format": {"parse": {"time": "date:'%H:%M:%S'"}}},
   "mark": {"type": "line", "color": "#5f4ea8", "strokeWidth": 1.6, "clip": true},
   "encoding": {
    "x": {"field": "time", "type": "temporal", "axis": {"orient": "bottom", "title": null, "labels": false, "tickSize": -23, "tickWidth": 2, "values": [{"year":1900,"month":1,"date":1,"hours":15,"minutes":55},{"year":1900,"month":1,"date":1,"hours":16,"minutes":0},{"year":1900,"month":1,"date":1,"hours":16,"minutes":5}]}},
    "y": {"field": "vz", "type": "quantitative", "axis": {"orient": "left", "title": null, "labels": false, "tickSize": -18, "tickWidth": 2, "values": [-200, -100, 0, 100, 200]}}
   }},
  {"data": {"name": "vzD", "format": {"parse": {"time": "date:'%H:%M:%S'"}}},
   "mark": {"type": "line", "color": "#ee2024", "strokeWidth": 1.6, "clip": true},
   "encoding": {
    "x": {"field": "time", "type": "temporal", "axis": {"orient": "bottom", "title": null, "labels": false, "tickSize": -12, "tickWidth": 2, "values": [{"year":1900,"month":1,"date":1,"hours":15,"minutes":53},{"year":1900,"month":1,"date":1,"hours":15,"minutes":54},{"year":1900,"month":1,"date":1,"hours":15,"minutes":56},{"year":1900,"month":1,"date":1,"hours":15,"minutes":57},{"year":1900,"month":1,"date":1,"hours":15,"minutes":58},{"year":1900,"month":1,"date":1,"hours":15,"minutes":59},{"year":1900,"month":1,"date":1,"hours":16,"minutes":1},{"year":1900,"month":1,"date":1,"hours":16,"minutes":2},{"year":1900,"month":1,"date":1,"hours":16,"minutes":3},{"year":1900,"month":1,"date":1,"hours":16,"minutes":4},{"year":1900,"month":1,"date":1,"hours":16,"minutes":6}]}},
    "y": {"field": "vz", "type": "quantitative", "axis": {"orient": "left", "title": null, "labels": false, "tickSize": -9, "tickWidth": 1.5, "values": [-240, -230, -220, -210, -200, -190, -180, -170, -160, -150, -140, -130, -120, -110, -100, -90, -80, -70, -60, -50, -40, -30, -20, -10, 0, 10, 20, 30, 40, 50, 60, 70, 80, 90, 100, 110, 120, 130, 140, 150, 160, 170, 180, 190]}}
   }},
  {"data": {"values": [{}]},
   "mark": {"type": "rule", "color": "#231f20", "strokeWidth": 1.5, "strokeDash": [15, 15]},
   "encoding": {
    "x": {"datum": {"year":1900,"month":1,"date":1,"hours":15,"minutes":52}, "type": "temporal", "axis": {"orient": "top", "title": null, "labels": false, "tickSize": -23, "tickWidth": 2, "values": [{"year":1900,"month":1,"date":1,"hours":15,"minutes":55},{"year":1900,"month":1,"date":1,"hours":16,"minutes":0},{"year":1900,"month":1,"date":1,"hours":16,"minutes":5}]}},
    "x2": {"datum": {"year":1900,"month":1,"date":1,"hours":16,"minutes":7}},
    "y": {"datum": 0, "type": "quantitative", "axis": {"orient": "right", "title": null, "labels": false, "tickSize": -18, "tickWidth": 2, "values": [-200, -100, 0, 100, 200]}}
   }},
  {"data": {"values": [{}]},
   "mark": {"type": "rule", "color": "#231f20", "strokeWidth": 1.5},
   "encoding": {
    "x": {"datum": {"year":1900,"month":1,"date":1,"hours":16,"minutes":6,"seconds":41}, "type": "temporal", "axis": {"orient": "top", "title": null, "labels": false, "tickSize": -12, "tickWidth": 2, "values": [{"year":1900,"month":1,"date":1,"hours":15,"minutes":53},{"year":1900,"month":1,"date":1,"hours":15,"minutes":54},{"year":1900,"month":1,"date":1,"hours":15,"minutes":56},{"year":1900,"month":1,"date":1,"hours":15,"minutes":57},{"year":1900,"month":1,"date":1,"hours":15,"minutes":58},{"year":1900,"month":1,"date":1,"hours":15,"minutes":59},{"year":1900,"month":1,"date":1,"hours":16,"minutes":1},{"year":1900,"month":1,"date":1,"hours":16,"minutes":2},{"year":1900,"month":1,"date":1,"hours":16,"minutes":3},{"year":1900,"month":1,"date":1,"hours":16,"minutes":4},{"year":1900,"month":1,"date":1,"hours":16,"minutes":6}]}},
    "y": {"datum": 126, "type": "quantitative", "axis": {"orient": "right", "title": null, "labels": false, "tickSize": -9, "tickWidth": 1.5, "values": [-240, -230, -220, -210, -200, -190, -180, -170, -160, -150, -140, -130, -120, -110, -100, -90, -80, -70, -60, -50, -40, -30, -20, -10, 0, 10, 20, 30, 40, 50, 60, 70, 80, 90, 100, 110, 120, 130, 140, 150, 160, 170, 180, 190]}},
    "y2": {"datum": 58}
   }},
  {"data": {"values": [{}]},
   "mark": {"type": "point", "shape": "triangle-down", "filled": true, "color": "#231f20", "opacity": 1, "size": 200},
   "encoding": {
    "x": {"datum": {"year":1900,"month":1,"date":1,"hours":16,"minutes":6,"seconds":41}, "type": "temporal", "axis": null},
    "y": {"datum": 52, "type": "quantitative", "axis": null}
   }},
  {"data": {"values": [{}]},
   "mark": {"type": "text", "text": "TH-E", "fontSize": 35, "fontWeight": "bold", "color": "#363b93", "align": "center", "baseline": "alphabetic"},
   "encoding": {
    "x": {"datum": {"year":1900,"month":1,"date":1,"hours":15,"minutes":59,"seconds":53}, "type": "temporal", "axis": null},
    "y": {"datum": 107.7, "type": "quantitative", "axis": null}
   }},
  {"data": {"values": [{}]},
   "mark": {"type": "text", "text": "TH-A", "fontSize": 35, "fontWeight": "bold", "color": "#8cc63e", "align": "center", "baseline": "alphabetic"},
   "encoding": {
    "x": {"datum": {"year":1900,"month":1,"date":1,"hours":15,"minutes":58,"seconds":35}, "type": "temporal", "axis": null},
    "y": {"datum": 42.5, "type": "quantitative", "axis": null}
   }},
  {"data": {"values": [{}]},
   "mark": {"type": "text", "text": "TH-D", "fontSize": 35, "fontWeight": "bold", "color": "#ef4136", "align": "center", "baseline": "alphabetic"},
   "encoding": {
    "x": {"datum": {"year":1900,"month":1,"date":1,"hours":16,"minutes":1,"seconds":30}, "type": "temporal", "axis": null},
    "y": {"datum": -123.5, "type": "quantitative", "axis": null}
   }},
  {"data": {"values": [{}]},
   "mark": {"type": "text", "text": "Vz", "fontSize": 37, "color": "#231f20", "align": "left", "baseline": "alphabetic"},
   "encoding": {
    "x": {"datum": {"year":1900,"month":1,"date":1,"hours":16,"minutes":6,"seconds":3}, "type": "temporal", "axis": null},
    "y": {"datum": 148.6, "type": "quantitative", "axis": null}
   }},
  {"data": {"values": [{}]},
   "mark": {"type": "text", "text": "m’sheath", "fontSize": 37, "color": "#231f20", "align": "left", "baseline": "alphabetic"},
   "encoding": {
    "x": {"datum": {"year":1900,"month":1,"date":1,"hours":16,"minutes":7,"seconds":8}, "type": "temporal", "axis": null},
    "y": {"datum": 148.6, "type": "quantitative", "axis": null}
   }},
  {"data": {"values": [{}]},
   "mark": {"type": "text", "text": "ΔZ", "fontSize": 33, "color": "#231f20", "align": "left", "baseline": "alphabetic"},
   "encoding": {
    "x": {"datum": {"year":1900,"month":1,"date":1,"hours":16,"minutes":8,"seconds":56}, "type": "temporal", "axis": null},
    "y": {"datum": -151.7, "type": "quantitative", "axis": null}
   }},
  {"data": {"values": [{}]},
   "mark": {"type": "text", "text": "Δ", "fontSize": 33, "color": "#231f20", "align": "left", "baseline": "alphabetic"},
   "encoding": {
    "x": {"datum": {"year":1900,"month":1,"date":1,"hours":16,"minutes":9,"seconds":17}, "type": "temporal", "axis": null},
    "y": {"datum": -248, "type": "quantitative", "axis": null}
   }},
  {"data": {"values": [{}]},
   "mark": {"type": "text", "text": "V", "fontSize": 45, "color": "#231f20", "align": "center", "baseline": "alphabetic"},
   "encoding": {
    "x": {"datum": {"year":1900,"month":1,"date":1,"hours":15,"minutes":49,"seconds":5}, "type": "temporal", "axis": null},
    "y": {"datum": 56.6, "type": "quantitative", "axis": null}
   }},
  {"data": {"values": [{}]},
   "mark": {"type": "text", "text": "Z", "fontSize": 30, "color": "#231f20", "align": "left", "baseline": "alphabetic"},
   "encoding": {
    "x": {"datum": {"year":1900,"month":1,"date":1,"hours":15,"minutes":49,"seconds":17}, "type": "temporal", "axis": null},
    "y": {"datum": 40, "type": "quantitative", "axis": null}
   }},
  {"data": {"values": [{}]},
   "mark": {"type": "text", "text": "(km/s)", "fontSize": 47, "color": "#231f20", "align": "center", "baseline": "alphabetic"},
   "encoding": {
    "x": {"datum": {"year":1900,"month":1,"date":1,"hours":15,"minutes":49,"seconds":18}, "type": "temporal", "axis": null},
    "y": {"datum": -18.8, "type": "quantitative", "axis": null}
   }},
  {"data": {"values": [{}]},
   "mark": {"type": "text", "text": "hhmm", "fontSize": 31, "color": "#231f20", "align": "left", "baseline": "alphabetic"},
   "encoding": {
    "x": {"datum": {"year":1900,"month":1,"date":1,"hours":15,"minutes":48,"seconds":37}, "type": "temporal", "axis": null},
    "y": {"datum": -296, "type": "quantitative", "axis": null}
   }},
  {"data": {"values": [{}]},
   "mark": {"type": "text", "text": "2010 Oct 06", "fontSize": 33, "color": "#231f20", "align": "left", "baseline": "alphabetic"},
   "encoding": {
    "x": {"datum": {"year":1900,"month":1,"date":1,"hours":15,"minutes":48,"seconds":37}, "type": "temporal", "axis": null},
    "y": {"datum": -339.5, "type": "quantitative", "axis": null}
   }}
 ]
}
]
}
